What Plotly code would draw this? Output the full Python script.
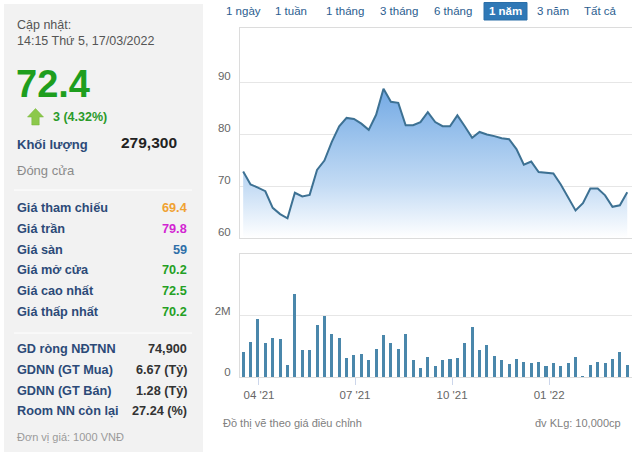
import pandas as pd
import plotly.graph_objects as go

W, H = 640, 454

# ---------------- data ----------------
start_date = "2021-03-17"
n_weeks = 53
dates = pd.date_range(start_date, periods=n_weeks, freq="7D")

prices = [72.8, 70.3, 69.7, 69.0, 65.8, 64.6, 63.8, 68.7, 68.0, 68.3,
          73.1, 74.9, 78.5, 81.5, 83.1, 82.9, 82.0, 80.8, 83.7, 88.7,
          86.2, 86.0, 81.7, 81.7, 82.3, 84.2, 82.3, 81.5, 81.5, 83.6,
          81.5, 79.3, 80.4, 79.9, 79.6, 79.2, 79.0, 77.1, 74.1, 74.7,
          72.7, 72.5, 72.4, 70.3, 67.7, 65.3, 66.7, 69.5, 69.5, 68.2,
          66.0, 66.3, 68.8]

volumes = [820000, 1160000, 1900000, 1130000, 1290000, 1250000, 400000, 2710000, 870000, 870000,
           1710000, 2000000, 1420000, 1290000, 620000, 720000, 770000, 550000, 910000, 1390000,
           1130000, 930000, 1420000, 550000, 290000, 650000, 360000, 550000, 590000, 620000,
           1130000, 1650000, 870000, 1040000, 680000, 550000, 430000, 590000, 490000, 460000,
           490000, 360000, 460000, 360000, 460000, 650000, 30000, 390000, 490000, 460000,
           590000, 820000, 390000]

x_tick_vals = ["2021-04-01", "2021-07-01", "2021-10-01", "2022-01-01"]
x_tick_text = ["04 '21", "07 '21", "10 '21", "01 '22"]
price_ticks = [60, 70, 80, 90]
vol_tick_vals = [0, 2000000]
vol_tick_text = ["0", "2M"]

range_buttons = ["1 ngày", "1 tuần", "1 tháng", "3 tháng", "6 tháng", "1 năm", "3 năm", "Tất cả"]
active_button = "1 năm"

update_label = "Cập nhật:"
update_time = "14:15 Thứ 5, 17/03/2022"
last_price = "72.4"
change_text = "3 (4.32%)"
volume_label = "Khối lượng"
volume_value = "279,300"
close_label = "Đóng cửa"

price_rows = ["Giá tham chiếu", "Giá trần", "Giá sàn", "Giá mở cửa", "Giá cao nhất", "Giá thấp nhất"]
price_vals = ["69.4", "79.8", "59", "70.2", "72.5", "70.2"]
price_cols = ["#f0a232", "#d225d2", "#2f6fa8", "#24a024", "#24a024", "#24a024"]

foreign_rows = ["GD ròng NĐTNN", "GDNN (GT Mua)", "GDNN (GT Bán)", "Room NN còn lại"]
foreign_vals = ["74,900", "6.67 (Tỷ)", "1.28 (Tỷ)", "27.24 (%)"]

unit_note = "Đơn vị giá: 1000 VNĐ"
footer_left = "Đồ thị vẽ theo giá điều chỉnh"
footer_right = "đv KLg: 10,000cp"

# ---------------- helpers ----------------
FONT = "Liberation Sans, Arial, sans-serif"


def px(x):
    return x / W


def py(y):
    return 1 - y / H


annotations = []


def text(x, y, s, size=13, color="#333", anchor="left", bold=False):
    annotations.append(dict(
        x=px(x), y=py(y), xref="paper", yref="paper", text=("<b>%s</b>" % s) if bold else s,
        showarrow=False, xanchor=anchor, yanchor="middle",
        font=dict(family=FONT, size=size, color=color), borderpad=0))


shapes = []
# left info panel
shapes.append(dict(type="rect", xref="paper", yref="paper", x0=px(4), x1=px(203), y0=py(452), y1=py(4),
                   fillcolor="#f2f2f2", line=dict(width=0), layer="below"))
for sy in (190, 333):
    shapes.append(dict(type="line", xref="paper", yref="paper", x0=px(14), x1=px(192), y0=py(sy), y1=py(sy),
                       line=dict(color="#ffffff", width=1)))
# green up arrow icon
arrow_pts = [(35.5, 108.5), (43.5, 117), (39.2, 117), (39.2, 125), (31.8, 125), (31.8, 117), (27.5, 117)]
path = "M " + " L ".join("%f,%f" % (px(a), py(b)) for a, b in arrow_pts) + " Z"
shapes.append(dict(type="path", xref="paper", yref="paper", path=path,
                   fillcolor="#8cc84b", line=dict(color="#74b436", width=0.5)))

# left panel texts
text(16, 25, update_label, 12.5, "#555")
text(16, 41, update_time, 12.5, "#555")
text(15, 84, last_price, 38, "#1e9e1e", bold=True)
text(52, 117, change_text, 12.5, "#2a9a2a", bold=True)
text(16, 144, volume_label, 13, "#2c4a78", bold=True)
text(178, 142, volume_value, 15.5, "#222", anchor="right", bold=True)
text(16, 171, close_label, 13, "#8a8a8a")
for i, (lab, val, col) in enumerate(zip(price_rows, price_vals, price_cols)):
    yy = 208 + i * 20.8
    text(16, yy, lab, 12.7, "#2c4a78", bold=True)
    text(188, yy, val, 12.7, col, anchor="right", bold=True)
for i, (lab, val) in enumerate(zip(foreign_rows, foreign_vals)):
    yy = 349 + i * 20.8
    text(16, yy, lab, 12.7, "#2c4a78", bold=True)
    text(188, yy, val, 12.7, "#333", anchor="right", bold=True)
text(16, 437, unit_note, 11, "#9a9a9a")

# range buttons
btn_x = [243, 291, 345, 399, 453, 505, 553, 600]
for bx, lab in zip(btn_x, range_buttons):
    if lab == active_button:
        shapes.append(dict(type="rect", xref="paper", yref="paper", x0=px(484), x1=px(527), y0=py(20), y1=py(2.5),
                           fillcolor="#2f78b6", line=dict(color="#2a6ea8", width=1)))
        text(bx, 11, lab, 11.5, "#ffffff", anchor="center", bold=True)
    else:
        text(bx, 11, lab, 11.5, "#2b5d8f", anchor="center")

# footer
text(222, 423, footer_left, 11, "#808080")
text(622, 423, footer_right, 11, "#808080", anchor="right")

# ---------------- figure ----------------
fig = go.Figure()
fig.add_trace(go.Bar(x=dates, y=volumes, xaxis="x", yaxis="y", width=2.9 * 86400000,
                     marker=dict(color="#4a87ab", line=dict(width=0)), hoverinfo="x+y"))
fig.add_trace(go.Scatter(x=dates, y=prices, xaxis="x2", yaxis="y2", mode="lines",
                         line=dict(color="#3d7193", width=2),
                         fill="tozeroy",
                         fillgradient=dict(type="vertical", start=60, stop=89,
                                           colorscale=[[0, "rgba(255,255,255,1)"], [0.35, "#c3dbf4"],
                                                       [1, "#72a9e4"]])))

xdom = [px(240), px(632)]
grid = "#e6e6e6"
axis_line = "#dcdcdc"
tickfont = dict(family=FONT, size=11.5, color="#666")

fig.update_layout(
    width=W, height=H, margin=dict(l=0, r=0, t=0, b=0, pad=0, autoexpand=False),
    paper_bgcolor="#ffffff", plot_bgcolor="#ffffff", showlegend=False,
    bargap=0,
    xaxis=dict(domain=xdom, anchor="y", type="date",
               range=["2021-03-14", "2022-03-20 12:00"],
               tickvals=x_tick_vals, ticktext=x_tick_text, tickfont=tickfont,
               ticks="outside", ticklen=7, tickcolor="#ccd6eb",
               showgrid=False, zeroline=False, automargin=False,
               showline=True, linecolor=axis_line, linewidth=1, mirror=True),
    yaxis=dict(domain=[py(377), py(254)], anchor="x", range=[0, 4030000],
               tickvals=vol_tick_vals, ticktext=vol_tick_text, tickfont=tickfont,
               ticks="outside", ticklen=6, tickcolor="rgba(0,0,0,0)", ticklabelshift=-5,
               showgrid=True, gridcolor=grid, zeroline=False, automargin=False,
               showline=True, linecolor=axis_line, linewidth=1),
    xaxis2=dict(domain=xdom, anchor="y2", type="date", matches="x",
                showticklabels=False, ticks="", showgrid=False, zeroline=False, automargin=False,
                showline=True, linecolor=axis_line, linewidth=1, mirror=True),
    yaxis2=dict(domain=[py(238), py(28)], anchor="x2", range=[60, 100.4],
                tickvals=price_ticks, tickfont=tickfont,
                ticks="outside", ticklen=6, tickcolor="rgba(0,0,0,0)", ticklabelshift=-6,
                showgrid=True, gridcolor=grid, zeroline=False, automargin=False,
                showline=True, linecolor=axis_line, linewidth=1),
    shapes=shapes, annotations=annotations,
)

fig.write_html("out.html")
